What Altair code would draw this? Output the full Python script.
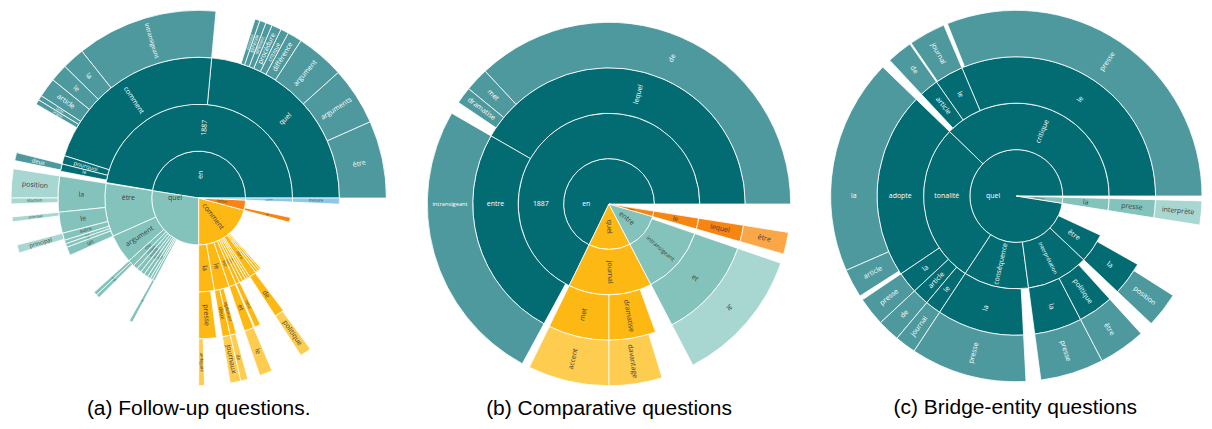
import math
import altair as alt
import pandas as pd

# ---------------- data (question-prefix trees, counts) ----------------
# Panel (a) Follow-up questions
A_IDS = [
    "en", "en/1887",
    "en/1887/quel",
    "en/1887/quel/être", "en/1887/quel/arguments", "en/1887/quel/argument",
    "en/1887/quel/différence", "en/1887/quel/critique", "en/1887/quel/procédure",
    "en/1887/quel/différent", "en/1887/quel/générale", "en/1887/quel/processus",
    "en/1887/comment",
    "en/1887/comment/intransigeant", "en/1887/comment/la", "en/1887/comment/le",
    "en/1887/comment/article", "en/1887/comment/texte", "en/1887/comment/langue",
    "en/1887/pourquoi",
    "en/1887/le", "en/1887/le/deux",
    "quel", "quel/être", "quel/être/la", "quel/être/la/position", "quel/être/la/réaction",
    "quel/être/le", "quel/être/le/principal",
    "quel/être/autre", "quel/être/autre/principal",
    "quel/être/leur", "quel/être/ce", "quel/être/un",
    "quel/argument",
    "quel/rôle", "quel/rôle/le", "quel/rôle/de",
    "quel/critique", "quel/tonalité", "quel/position", "quel/point", "quel/sujet",
    "quel/type", "quel/ton", "quel/ton/le",
    "comment", "comment/la", "comment/la/presse", "comment/la/presse/ambiguïté",
    "comment/le", "comment/le/deux", "comment/le/deux/journaux",
    "comment/le/également", "comment/le/également/de",
    "comment/est", "comment/est/et", "comment/est/et/le",
    "comment/selon", "comment/selon/celui",
    "comment/entre", "comment/sont", "comment/ont", "comment/se",
    "comment/titre", "comment/titre/de", "comment/titre/de/politique",
    "comment/de", "comment/du", "comment/en",
    "selon", "selon/le",
    "dans", "dans/quelle", "dans/quelle/mesure",
]
A_VALUES = [
    171, 170.5,
    84.7,
    24, 18, 15,
    4.5, 2.5, 3,
    2, 2, 1.5,
    77.8,
    43.8, 7, 5.5,
    6, 1.5, 1.5,
    3.5,
    3, 2.5,
    99, 33, 14.8, 9, 1.8,
    8.7, 1.5,
    3, 2.5,
    1.5, 1.5, 3.5,
    18,
    4, 1.5, 1.5,
    3, 3, 2.5, 2.5, 2,
    1.5, 1.5, 1.4,
    75, 9.7, 7.3, 1.8,
    9.3, 3.3, 3.3,
    2.5, 2.2,
    4.5, 4, 4,
    2.5, 2.5,
    2, 2, 1.5, 1.5,
    4.5, 4, 3.5,
    1.5, 1.5, 1,
    12.5, 3,
    2.5, 2.5, 2.5,
]
A_TOTAL = 360
A_FAMILY = {"en": "dark", "quel": "light", "comment": "yellow", "selon": "orange", "dans": "blue"}

# Panel (b) Comparative questions
B_IDS = [
    "en", "en/1887", "en/1887/lequel", "en/1887/lequel/de", "en/1887/lequel/met",
    "en/1887/lequel/dramatise", "en/1887/entre", "en/1887/entre/intransigeant",
    "quel", "quel/journal", "quel/journal/met", "quel/journal/met/accent",
    "quel/journal/dramatise", "quel/journal/dramatise/davantage",
    "entre", "entre/intransigeant", "entre/intransigeant/et", "entre/intransigeant/et/le",
    "lequel", "lequel/le", "lequel/le/lequel", "lequel/le/lequel/être",
]
B_VALUES = [
    244, 244, 150, 133, 7.6,
    5.4, 91.5, 91.5,
    53.5, 53.5, 26, 26,
    20, 17,
    46.5, 43.5, 43.5, 43.5,
    7, 7, 7, 7,
]
B_TOTAL = 360
B_FAMILY = {"en": "dark", "quel": "yellow", "entre": "light", "lequel": "orange"}

# Panel (c) Bridge-entity questions
C_IDS = [
    "quel", "quel/critique", "quel/critique/le", "quel/critique/le/presse",
    "quel/critique/le~2", "quel/critique/le~2/journal",
    "quel/critique/article", "quel/critique/article/de",
    "quel/tonalité", "quel/tonalité/adopte", "quel/tonalité/adopte/la",
    "quel/tonalité/adopte/article", "quel/tonalité/la", "quel/tonalité/la/presse",
    "quel/tonalité/article", "quel/tonalité/article/de",
    "quel/tonalité/le", "quel/tonalité/le/journal",
    "quel/conséquence", "quel/conséquence/la", "quel/conséquence/la/presse",
    "quel/interprétation", "quel/interprétation/la", "quel/interprétation/la/presse",
    "quel/interprétation/politique", "quel/interprétation/politique/être",
    "quel/être", "quel/être/la", "quel/être/la/position",
    "comment", "comment/la", "comment/la/presse", "comment/la/presse/interprète",
]
C_VALUES = [
    351, 136, 113, 111.8,
    12, 11.5,
    8, 8,
    100.6, 78, 67.6,
    9, 9, 9,
    7, 7,
    6.6, 6.6,
    41, 36.4, 36.4,
    39, 19.9, 19.9,
    14.7, 14.7,
    18.4, 14, 11,
    7.5, 7.5, 7.5, 7.5,
]
C_TOTAL = 360
C_FAMILY = {"quel": "dark", "comment": "light"}

CAPTIONS = ["(a) Follow-up questions.", "(b) Comparative questions", "(c) Bridge-entity questions"]

# ---------------- styles ----------------
FAMILIES = {
    "dark":   ("#036c73", "#4e999e", "#ffffff"),
    "light":  ("#84c3bc", "#a8d6d1", "#3d3d3d"),
    "yellow": ("#feb813", "#fecd50", "#3d3d3d"),
    "orange": ("#f68512", "#fba748", "#3d3d3d"),
    "blue":   ("#8ec8e8", "#b5dcf0", "#3d3d3d"),
}


def build(ids, values, families, total, ring):
    start, cursor, rows = {}, {}, []
    for pid, v in zip(ids, values):
        parts = pid.split("/")
        parent = "/".join(parts[:-1])
        s = cursor.get(parent, start.get(parent, 0.0))
        start[pid] = s
        cursor[parent] = s + v
        depth = len(parts)
        label = parts[-1].split("~")[0]
        fam = FAMILIES[families[parts[0]]]
        e = s + v
        # label angle (degrees, counter-clockwise from east; panel totals are 360)
        a_s, a_e = s * 360.0 / total, e * 360.0 / total
        mid = (a_s + a_e) / 2
        if a_s <= 180 <= a_e and (a_e - a_s) >= 25:
            mid = 180.0
        if 90 < mid < 270:
            rot = (180 - mid) % 360
        else:
            rot = (-mid) % 360
        r_mid = (depth - 0.5) * ring
        arc_px = r_mid * math.radians(a_e - a_s)
        fs = min(7.0, 0.8 * arc_px, ring * 0.9 / (0.55 * max(len(label), 1)))
        rows.append(dict(
            id=pid, label=label, depth=depth,
            start=s, end=e, inner=depth - 1, outer=depth,
            tmid=mid * total / 360.0, rmid=depth - 0.5,
            rot=rot, fs=round(fs, 2),
            fill=fam[0] if depth < 4 else fam[1], tcol=fam[2],
        ))
    return pd.DataFrame(rows)


def panel(ids, values, families, total, R, cx, cy, width, height, caption):
    df = build(ids, values, families, total, R / 4.0)
    tscale = alt.Scale(domain=[0, total], range=[math.pi / 2, math.pi / 2 - 2 * math.pi])
    rscale = alt.Scale(type="linear", domain=[0, 4], range=[0, R])
    arcs = alt.Chart(df).mark_arc(stroke="#ffffff", strokeWidth=0.8).encode(
        theta=alt.Theta("start:Q", scale=tscale, stack=None),
        theta2="end:Q",
        radius=alt.Radius("outer:Q", scale=rscale),
        radius2="inner:Q",
        fill=alt.Fill("fill:N", scale=None),
        x=alt.value(cx), y=alt.value(cy),
    )
    texts = alt.Chart(df[df.fs >= 1.8]).mark_text(
        font="Open Sans", align="center", baseline="middle"
    ).encode(
        theta=alt.Theta("tmid:Q", scale=tscale, stack=None),
        radius=alt.Radius("rmid:Q", scale=rscale),
        text="label:N",
        angle=alt.Angle("rot:Q", scale=None),
        size=alt.Size("fs:Q", scale=None),
        color=alt.Color("tcol:N", scale=None),
        x=alt.value(cx), y=alt.value(cy),
    )
    return alt.layer(arcs, texts).properties(
        width=width, height=height,
        title=alt.TitleParams(
            caption, orient="bottom", anchor="middle", font="Liberation Sans",
            fontSize=21, fontWeight="normal", color="#000000", offset=11,
        ),
    )


pa = panel(A_IDS, A_VALUES, A_FAMILY, A_TOTAL, 188, 191, 188, 382, 376, CAPTIONS[0])
pb = panel(B_IDS, B_VALUES, B_FAMILY, B_TOTAL, 182, 200, 194, 400, 376, CAPTIONS[1])
pc = panel(C_IDS, C_VALUES, C_FAMILY, C_TOTAL, 186, 188, 186, 374, 376, CAPTIONS[2])

chart = alt.hconcat(pa, pb, pc, spacing=20).properties(padding=0).configure_view(stroke=None)
chart.save("out.html", embed_options={"renderer": "svg", "actions": False})
